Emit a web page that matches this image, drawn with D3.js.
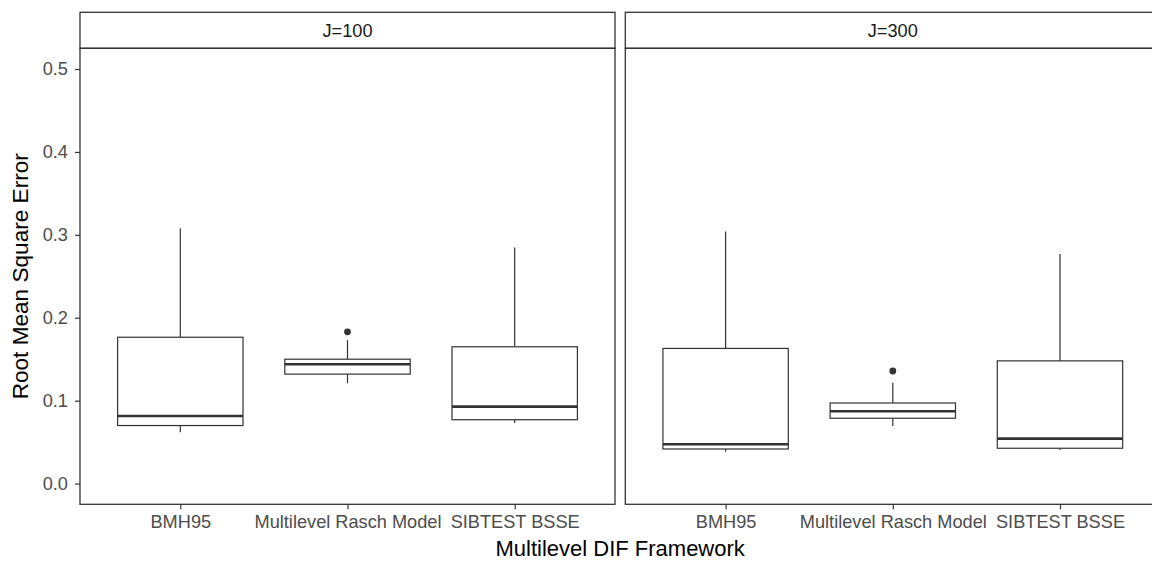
<!DOCTYPE html>
<html>
<head>
<meta charset="utf-8">
<script src="https://cdn.jsdelivr.net/npm/d3@7"></script>
<style>
  html, body { margin: 0; padding: 0; background: #fff; }
  svg { display: block; font-family: "Liberation Sans", Arial, sans-serif; }
</style>
</head>
<body>
<svg id="chart" width="1152" height="562"></svg>
<script>
// Facets and methods
const panels = ["J=100", "J=300"];
const categories = ["BMH95", "Multilevel Rasch Model", "SIBTEST BSSE"];

// Box statistics per facet (rows) and method (columns)
const whiskerLow  = [[0.062, 0.121, 0.073],  [0.0385, 0.0695, 0.0405]];
const q1          = [[0.070, 0.132, 0.077],  [0.0417, 0.0788, 0.0426]];
const median      = [[0.0815, 0.144, 0.0928], [0.0474, 0.0872, 0.0542]];
const q3          = [[0.1765, 0.150, 0.165], [0.163, 0.0972, 0.148]];
const whiskerHigh = [[0.308, 0.173, 0.2846], [0.304, 0.1217, 0.277]];
const outliers    = [[[], [0.183], []],      [[], [0.1358], []]];

const yTicks = [0.0, 0.1, 0.2, 0.3, 0.4, 0.5];

const svg = d3.select("#chart");
const ink = "#333333";
const smallFont = 18.2;

const panelLeft = 80, panelW = 535, gap = 10.3;
const stripTop = 12.3, stripBottom = 48.3, panelBottom = 504.3;

const y = d3.scaleLinear().domain([-0.025, 0.525]).range([panelBottom, stripBottom]);

// Discrete x with 0.6-unit padding on each side
const x = d3.scalePoint().domain(categories).range([0, panelW]).padding(0.6);
const step = x.step();
const boxW = step * 0.75;

panels.forEach((label, p) => {
  const px = panelLeft + p * (panelW + gap);
  const g = svg.append("g").attr("transform", `translate(${px},0)`);

  // Strip
  g.append("rect")
    .attr("x", 0).attr("y", stripTop)
    .attr("width", panelW).attr("height", stripBottom - stripTop)
    .attr("fill", "#fff").attr("stroke", ink).attr("stroke-width", 1.3);
  g.append("text")
    .attr("x", panelW / 2).attr("y", (stripTop + stripBottom) / 2)
    .attr("dy", "0.35em").attr("text-anchor", "middle")
    .attr("font-size", smallFont).attr("fill", "#1a1a1a")
    .text(label);

  // Boxplots
  categories.forEach((c, i) => {
    const cx = x(c);
    const bg = g.append("g");
    bg.append("line")
      .attr("x1", cx).attr("x2", cx)
      .attr("y1", y(q3[p][i])).attr("y2", y(whiskerHigh[p][i]))
      .attr("stroke", ink).attr("stroke-width", 1.2);
    bg.append("line")
      .attr("x1", cx).attr("x2", cx)
      .attr("y1", y(q1[p][i])).attr("y2", y(whiskerLow[p][i]))
      .attr("stroke", ink).attr("stroke-width", 1.2);
    bg.append("rect")
      .attr("x", cx - boxW / 2).attr("width", boxW)
      .attr("y", y(q3[p][i])).attr("height", y(q1[p][i]) - y(q3[p][i]))
      .attr("fill", "#fff").attr("stroke", ink).attr("stroke-width", 1.2);
    bg.append("line")
      .attr("x1", cx - boxW / 2).attr("x2", cx + boxW / 2)
      .attr("y1", y(median[p][i])).attr("y2", y(median[p][i]))
      .attr("stroke", ink).attr("stroke-width", 2.6);
    outliers[p][i].forEach(v => {
      bg.append("circle")
        .attr("cx", cx).attr("cy", y(v)).attr("r", 3.4)
        .attr("fill", ink);
    });
  });

  // Panel border
  g.append("rect")
    .attr("x", 0).attr("y", stripBottom)
    .attr("width", panelW).attr("height", panelBottom - stripBottom)
    .attr("fill", "none").attr("stroke", ink).attr("stroke-width", 1.3);

  // X axis
  const xa = g.append("g").attr("transform", `translate(0,${panelBottom})`)
    .call(d3.axisBottom(x).tickSize(5).tickPadding(6));
  xa.select(".domain").remove();
  xa.selectAll(".tick line").attr("stroke", ink).attr("stroke-width", 1.2);
  xa.selectAll(".tick text").attr("fill", "#4d4d4d").attr("font-size", smallFont)
    .attr("font-family", "Liberation Sans, Arial, sans-serif");

  // Y axis on first panel only
  if (p === 0) {
    const ya = g.append("g")
      .call(d3.axisLeft(y).tickValues(yTicks).tickFormat(d3.format(".1f")).tickSize(5).tickPadding(7));
    ya.select(".domain").remove();
    ya.selectAll(".tick line").attr("stroke", ink).attr("stroke-width", 1.2);
    ya.selectAll(".tick text").attr("fill", "#4d4d4d").attr("font-size", smallFont)
      .attr("font-family", "Liberation Sans, Arial, sans-serif");
  }
});

// Axis titles
svg.append("text")
  .attr("x", panelLeft + panelW + gap / 2).attr("y", 556)
  .attr("text-anchor", "middle").attr("font-size", 22).attr("fill", "#000")
  .text("Multilevel DIF Framework");
svg.append("text")
  .attr("transform", `translate(28,${(stripBottom + panelBottom) / 2}) rotate(-90)`)
  .attr("text-anchor", "middle").attr("font-size", 22.6).attr("fill", "#000")
  .text("Root Mean Square Error");
</script>
</body>
</html>
